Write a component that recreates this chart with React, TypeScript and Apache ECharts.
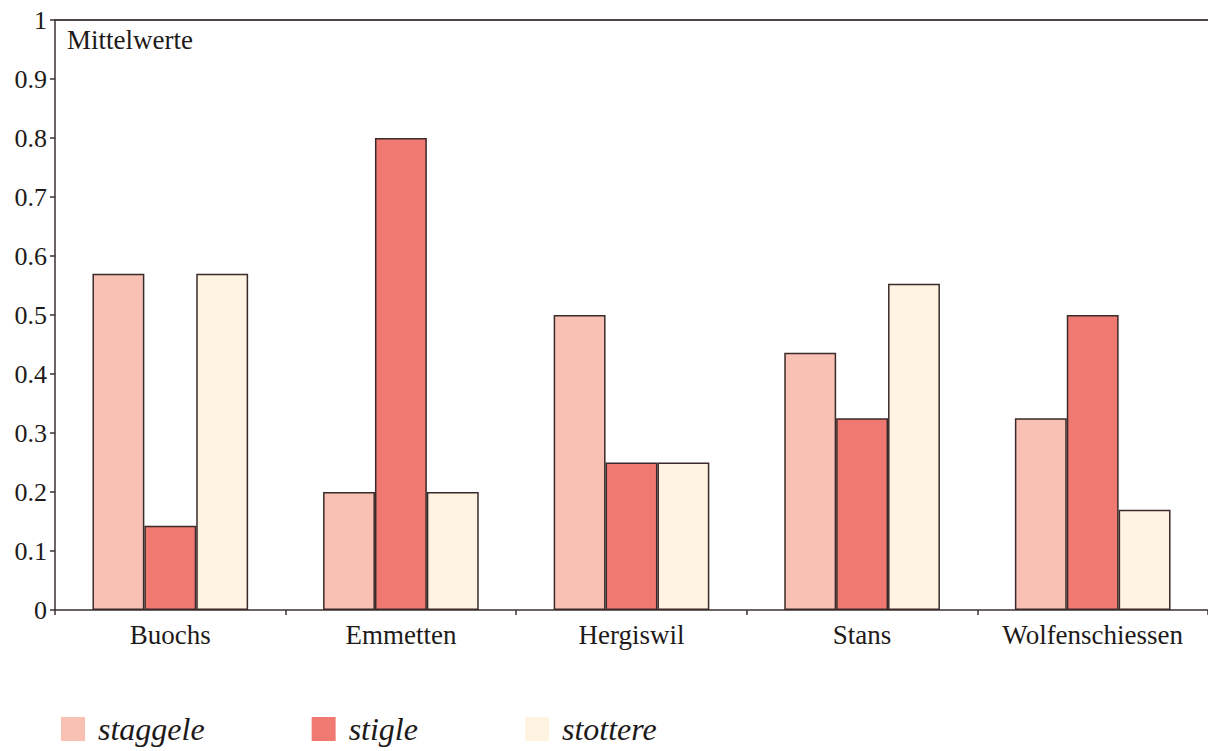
import React, { useEffect, useRef } from "react";
import * as echarts from "echarts";

const categories = ["Buochs", "Emmetten", "Hergiswil", "Stans", "Wolfenschiessen"];
const staggele = [0.57, 0.2, 0.5, 0.436, 0.325];
const stigle = [0.143, 0.8, 0.25, 0.325, 0.5];
const stottere = [0.57, 0.2, 0.25, 0.553, 0.17];
const seriesNames = ["staggele", "stigle", "stottere"];
const colors = ["#f9c0b4", "#f07a72", "#fff3e2"];

const FONT = "'Liberation Serif', 'DejaVu Serif', serif";

export default function App() {
  const ref = useRef<HTMLDivElement>(null);
  useEffect(() => {
    if (!ref.current) return;
    const chart = echarts.init(ref.current, null, { renderer: "svg" });
    const data = [staggele, stigle, stottere];
    chart.setOption({
      animation: false,
      backgroundColor: "#ffffff",
      grid: { left: 55, top: 20, width: 1155, height: 590, containLabel: false },
      legend: {
        left: 56,
        top: 708,
        itemWidth: 24,
        itemHeight: 24,
        itemGap: 107,
        icon: "rect",
        data: seriesNames,
        textStyle: { fontFamily: FONT, fontStyle: "italic", fontSize: 32, color: "#1e1a1a", padding: [0, 0, 0, 8] },
        itemStyle: { borderWidth: 0 },
      },
      graphic: [
        {
          type: "text",
          left: 67,
          top: 26,
          style: { text: "Mittelwerte", font: `27px ${FONT}`, fill: "#1e1a1a" },
        },
      ],
      xAxis: [
        {
          type: "category",
          data: categories,
          axisLine: { lineStyle: { color: "#3a3030", width: 1.5 } },
          axisTick: { show: true, interval: 0, length: 5, inside: false, lineStyle: { color: "#3a3030", width: 1.5 } },
          axisLabel: { interval: 0, hideOverlap: false, fontFamily: FONT, fontSize: 27, color: "#1e1a1a", margin: 11 },
        },
        {
          type: "category",
          position: "top",
          data: categories,
          axisLine: { show: true, lineStyle: { color: "#4a4444", width: 2 } },
          axisTick: { show: false },
          axisLabel: { show: false },
        },
      ],
      yAxis: [
        {
          type: "value",
          min: 0,
          max: 1,
          interval: 0.1,
          splitLine: { show: false },
          axisLine: { show: true, lineStyle: { color: "#3a3030", width: 1.5 } },
          axisTick: { show: true, length: 5, lineStyle: { color: "#3a3030", width: 1.5 } },
          axisLabel: {
            fontFamily: FONT,
            fontSize: 26,
            color: "#1e1a1a",
            margin: 8,
            formatter: (v: number) => (v === 0 || v === 1 ? String(v) : v.toFixed(1)),
          },
        },
      ],
      series: seriesNames.map((name, i) => ({
        name,
        type: "bar",
        data: data[i],
        barGap: "0%",
        barCategoryGap: "32.5%",
        itemStyle: { color: colors[i], borderColor: "#3a2a2a", borderWidth: 1.5 },
      })),
    });
    return () => chart.dispose();
  }, []);
  return <div ref={ref} style={{ position: "fixed", left: 0, top: 0, width: 1208, height: 751 }} />;
}
